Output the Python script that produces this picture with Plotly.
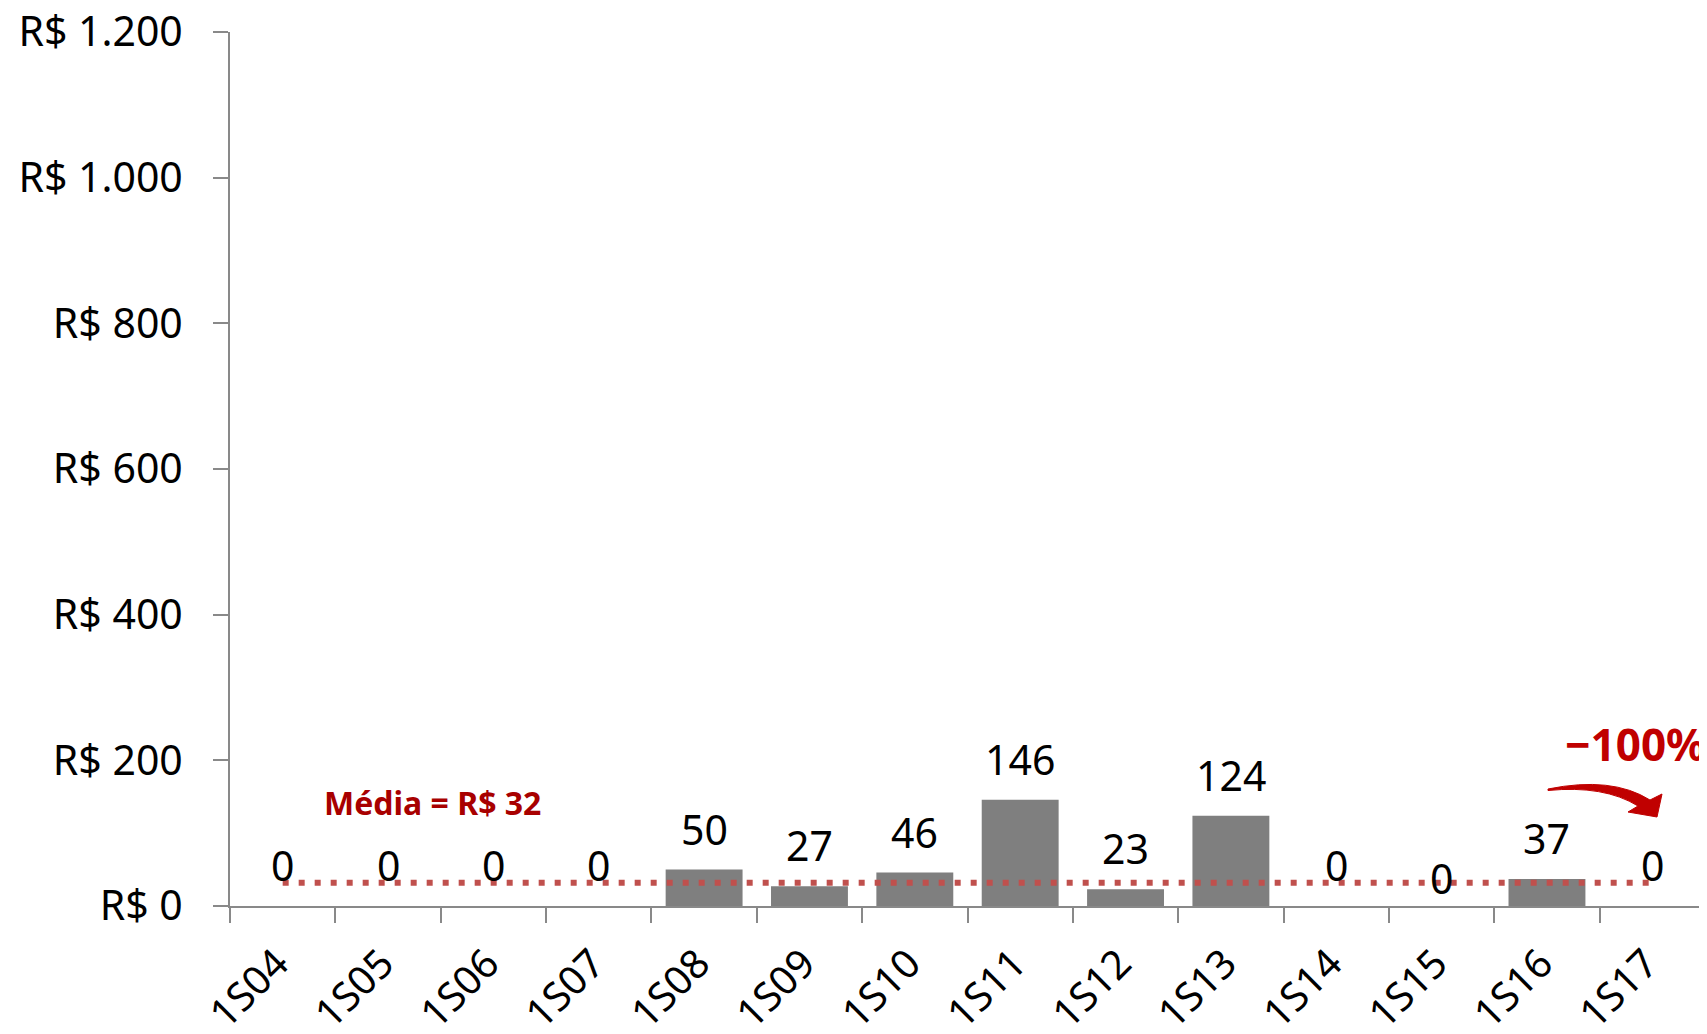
import plotly.graph_objects as go

categories = ["1S04", "1S05", "1S06", "1S07", "1S08", "1S09", "1S10",
              "1S11", "1S12", "1S13", "1S14", "1S15", "1S16", "1S17"]
values = [0, 0, 0, 0, 50, 27, 46, 146, 23, 124, 0, 0, 37, 0]
mean_value = 32
label_shift = [41, 41, 41, 41, 41, 41, 41, 41, 41, 41, 41, 28, 41, 41]
y_tickvals = [0, 200, 400, 600, 800, 1000, 1200]
y_ticktext = ["R$ 0", "R$ 200", "R$ 400", "R$ 600", "R$ 800", "R$ 1.000", "R$ 1.200"]
mean_text = "Média = R$ 32"
change_text = "−100%"

FONT = "Noto Sans"
# page has an 8px body margin, so the figure is drawn offset by 8px
W, H = 1699, 1034
ML, MR, MT, MB = 222, 2, 24, 136
PW = W - ML - MR
PH = H - MT - MB
OFF = 8


def px(x, y):
    # x, y given in page pixels
    return (x - OFF - ML) / PW, (H - MB - (y - OFF)) / PH


fig = go.Figure()
fig.add_trace(go.Bar(
    x=categories, y=values,
    marker=dict(color="#7f7f7f", line=dict(color="#a0a0a0", width=0)),
    hoverinfo="x+y",
))
fig.add_trace(go.Scatter(
    x=categories, y=[mean_value] * len(categories),
    mode="lines",
    line=dict(color="#c0504d", width=6, dash="6px,10px"),
    hoverinfo="skip",
))

annotations = []
for c, v, s in zip(categories, values, label_shift):
    annotations.append(dict(
        x=c, y=v, xref="x", yref="y", text=str(v), showarrow=False,
        yanchor="middle", yshift=s,
        font=dict(family=FONT, size=41, color="#000000"),
    ))
mx, my = px(432, 802)
annotations.append(dict(
    x=mx, y=my, xref="paper", yref="paper", text="<b>%s</b>" % mean_text,
    showarrow=False, xanchor="center", yanchor="middle",
    font=dict(family=FONT, size=32, color="#a80000"),
))
cx, cy = px(1635, 744)
annotations.append(dict(
    x=cx, y=cy, xref="paper", yref="paper", text="<b>%s</b>" % change_text,
    showarrow=False, xanchor="center", yanchor="middle",
    font=dict(family=FONT, size=44, color="#c00000"),
))


def P(x, y):
    a, b = px(x, y)
    return "%.5f %.5f" % (a, b)


path = ("M " + P(1548, 789) +
        " Q " + P(1612, 776) + " " + P(1650, 800) +
        " L " + P(1662, 794) +
        " L " + P(1657, 817) +
        " L " + P(1628, 812) +
        " L " + P(1638, 806) +
        " Q " + P(1604, 785) + " " + P(1548, 790.5) + " Z")
shapes = [dict(type="path", xref="paper", yref="paper", path=path,
               fillcolor="#c00000", line=dict(color="#c00000", width=1))]

fig.update_layout(
    width=W, height=H,
    margin=dict(l=ML, r=MR, t=MT, b=MB, autoexpand=False),
    paper_bgcolor="white", plot_bgcolor="white",
    showlegend=False, bargap=0.27,
    annotations=annotations, shapes=shapes,
    font=dict(family=FONT, size=41, color="#000000"),
    xaxis=dict(
        type="category", tickangle=-45, showline=True, linecolor="#898989",
        linewidth=2, ticks="outside", ticklen=15, tickwidth=2, tickcolor="#898989",
        tickson="boundaries", showgrid=False, zeroline=False,
        ticklabelstandoff=16, ticklabelshift=-6, ticklabeloverflow="allow",
        tickfont=dict(family=FONT, size=40, color="#000000"),
        range=[-0.5, len(categories) - 0.5],
    ),
    yaxis=dict(
        range=[0, 1200], tickvals=y_tickvals, ticktext=y_ticktext,
        showline=True, linecolor="#898989", linewidth=2, ticks="outside",
        ticklen=15, tickwidth=2, tickcolor="#898989", showgrid=False,
        ticklabelstandoff=22, ticklabeloverflow="allow",
        zeroline=False, tickfont=dict(family=FONT, size=41, color="#000000"),
    ),
)

fig.write_html("out.html")
